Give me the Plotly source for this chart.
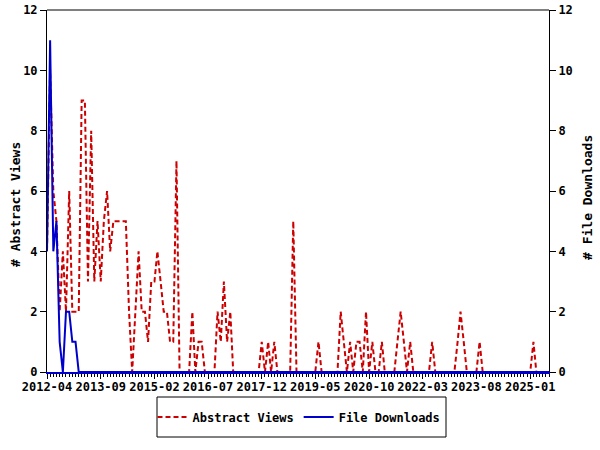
import plotly.graph_objects as go
import pandas as pd

START_MONTH = "2012-04"

ABSTRACT_VIEWS = [
    4, 10, 6, 5, 2, 4, 2, 6, 2, 2,
    2, 9, 9, 3, 8, 3, 5, 3, 5, 6,
    4, 5, 5, 5, 5, 5, 2, 0, 2, 4,
    2, 2, 1, 3, 3, 4, 3, 2, 2, 1,
    1, 7, 0, 0, 0, 0, 2, 0, 1, 1,
    0, 0, 0, 0, 2, 1, 3, 1, 2, 0,
    0, 0, 0, 0, 0, 0, 0, 0, 1, 0,
    1, 0, 1, 0, 0, 0, 0, 0, 5, 0,
    0, 0, 0, 0, 0, 0, 1, 0, 0, 0,
    0, 0, 0, 2, 1, 0, 1, 0, 1, 1,
    0, 2, 0, 1, 0, 0, 1, 0, 0, 0,
    0, 1, 2, 1, 0, 1, 0, 0, 0, 0,
    0, 0, 1, 0, 0, 0, 0, 0, 0, 0,
    1, 2, 1, 0, 0, 0, 0, 1, 0, 0,
    0, 0, 0, 0, 0, 0, 0, 0, 0, 0,
    0, 0, 0, 0, 1, 0, 0, 0, 0, 0,
]

FILE_DOWNLOADS = [
    4, 11, 4, 5, 1, 0, 2, 2, 1, 1,
    0, 0, 0, 0, 0, 0, 0, 0, 0, 0,
    0, 0, 0, 0, 0, 0, 0, 0, 0, 0,
    0, 0, 0, 0, 0, 0, 0, 0, 0, 0,
    0, 0, 0, 0, 0, 0, 0, 0, 0, 0,
    0, 0, 0, 0, 0, 0, 0, 0, 0, 0,
    0, 0, 0, 0, 0, 0, 0, 0, 0, 0,
    0, 0, 0, 0, 0, 0, 0, 0, 0, 0,
    0, 0, 0, 0, 0, 0, 0, 0, 0, 0,
    0, 0, 0, 0, 0, 0, 0, 0, 0, 0,
    0, 0, 0, 0, 0, 0, 0, 0, 0, 0,
    0, 0, 0, 0, 0, 0, 0, 0, 0, 0,
    0, 0, 0, 0, 0, 0, 0, 0, 0, 0,
    0, 0, 0, 0, 0, 0, 0, 0, 0, 0,
    0, 0, 0, 0, 0, 0, 0, 0, 0, 0,
    0, 0, 0, 0, 0, 0, 0, 0, 0, 0,
]

TICK_LABELS = ["2012-04", "2013-09", "2015-02", "2016-07", "2017-12",
               "2019-05", "2020-10", "2022-03", "2023-08", "2025-01"]
Y_TICKS = [0, 2, 4, 6, 8, 10, 12]
LEFT_TITLE = "# Abstract Views"
RIGHT_TITLE = "# File Downloads"

months = pd.date_range(START_MONTH + "-01", periods=len(ABSTRACT_VIEWS), freq="MS")
tickvals = [t + "-01" for t in TICK_LABELS]

FONT = "DejaVu Sans Mono"
RED = "#CC0000"
BLUE = "#0000CC"

fig = go.Figure()
fig.add_trace(go.Scatter(
    x=months, y=ABSTRACT_VIEWS, name="Abstract Views", mode="lines",
    line=dict(color=RED, width=2, dash="5px,3px"),
))
fig.add_trace(go.Scatter(
    x=months, y=FILE_DOWNLOADS, name="File Downloads", mode="lines",
    yaxis="y2", line=dict(color=BLUE, width=2),
))

L, R, T, B = 47, 549, 10, 372
W, H = 600, 450
pw, ph = R - L, B - T

def px(x):
    return (x - L) / pw

def py(y):
    return (B - y) / ph

tickfont = dict(family=FONT, size=12, color="black", weight="bold")
axis_common = dict(showgrid=False, zeroline=False, showline=True, automargin=False,
                   linecolor="black", linewidth=1, ticks="outside", layer="below traces",
                   tickcolor="black", tickfont=tickfont)

fig.update_layout(
    width=W, height=H,
    paper_bgcolor="white", plot_bgcolor="white",
    margin=dict(l=L, r=W - R, t=T, b=H - B, autoexpand=False),
    font=dict(family=FONT, size=12, color="black"),
    xaxis=dict(
        type="date", range=[months[0], months[-1]], tickangle=0,
        tickvals=tickvals, ticktext=TICK_LABELS, ticklen=5, mirror=False,
        ticklabelstandoff=-2,
        minor=dict(ticks="outside", ticklen=3, dtick="M1", tick0=months[0],
                   tickcolor="black", showgrid=False),
        **{**axis_common, "linecolor": BLUE, "linewidth": 2},
    ),
    xaxis2=dict(
        type="date", range=[months[0], months[-1]], overlaying="x", anchor="y",
        showticklabels=False, showgrid=False, zeroline=False, showline=False,
        ticks="", tickvals=tickvals, automargin=False, layer="above traces",
        minor=dict(ticks="inside", ticklen=3, dtick="M1", tick0=months[0],
                   tickcolor="black", showgrid=False),
    ),
    yaxis=dict(range=[0, 12], tickvals=Y_TICKS, ticklen=6, **axis_common),
    yaxis2=dict(range=[0, 12], tickvals=Y_TICKS, ticklen=6, overlaying="y",
                side="right", **axis_common),
    annotations=[
        dict(text=LEFT_TITLE, xref="paper", yref="paper", x=px(15), y=py(205),
             xanchor="center", yanchor="middle", textangle=-90, showarrow=False,
             font=dict(family=FONT, size=13, color="black", weight="bold")),
        dict(text=RIGHT_TITLE, xref="paper", yref="paper", x=px(587), y=py(198),
             xanchor="center", yanchor="middle", textangle=-90, showarrow=False,
             font=dict(family=FONT, size=13, color="black", weight="bold")),
    ],
    showlegend=True,
    legend=dict(
        orientation="h", x=px(299), y=py(417), xanchor="center", yanchor="middle",
        bgcolor="rgba(0,0,0,0)", borderwidth=0,
        font=dict(family=FONT, size=12, color="black", weight="bold"),
        itemwidth=30,
    ),
    shapes=[
        dict(type="line", xref="paper", yref="paper", x0=0, x1=1, y0=1, y1=1,
             line=dict(color="black", width=1)),
        dict(type="rect", xref="paper", yref="paper",
             x0=px(157), x1=px(446), y0=py(437), y1=py(397),
             line=dict(color="black", width=1), fillcolor="rgba(0,0,0,0)"),
    ],
)

fig.write_html("out.html", config={"displayModeBar": False},
               post_script="document.body.style.margin='0';document.body.style.overflow='hidden';")
